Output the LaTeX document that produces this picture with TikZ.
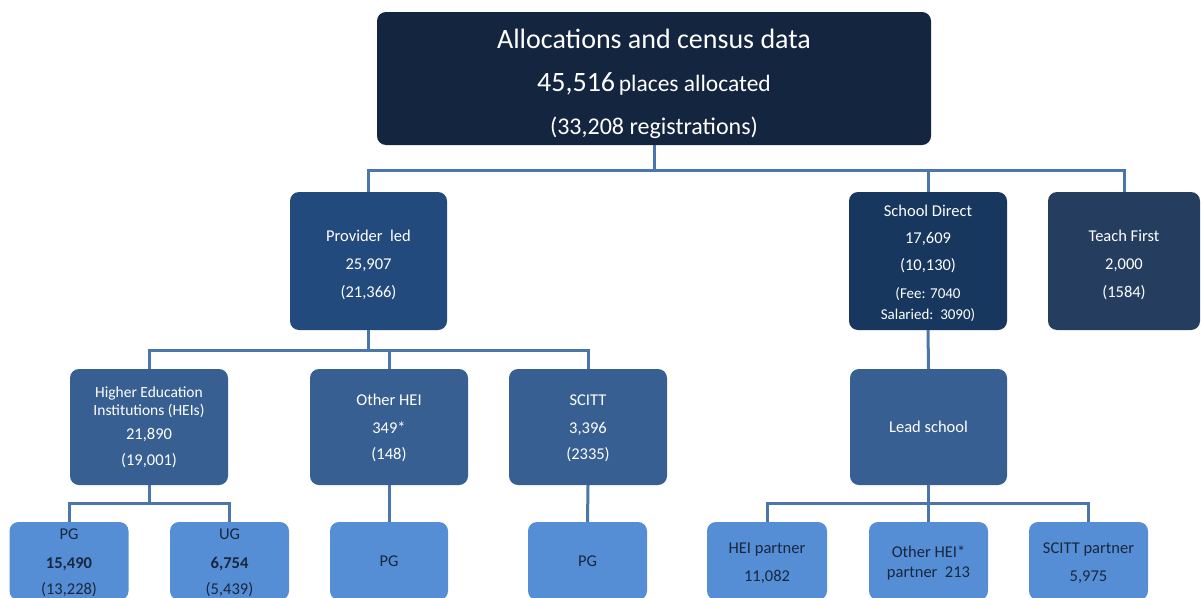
\documentclass[tikz,border=0pt]{standalone}
\usepackage{fontspec}
\setmainfont{Carlito}
\definecolor{topnavy}{HTML}{13253F}
\definecolor{provblue}{HTML}{224A7C}
\definecolor{sdblue}{HTML}{17375E}
\definecolor{tfblue}{HTML}{253E60}
\definecolor{midblue}{HTML}{375F91}
\definecolor{lightblue}{HTML}{558ED5}
\definecolor{linkblue}{HTML}{4A76AB}
\definecolor{darktext}{HTML}{18273D}
\begin{document}
\begin{tikzpicture}[x=1pt,y=-1pt,
  box/.style={rectangle, rounded corners=9pt, inner sep=0pt},
  topbox/.style={box, fill=topnavy, minimum width=554pt, minimum height=133pt},
  tierbox/.style={box, minimum width=157pt, minimum height=138pt},
  midbox/.style={box, fill=midblue, minimum width=158pt, minimum height=116pt},
  leafbox/.style={box, fill=lightblue, minimum width=119pt, minimum height=78pt},
  txt/.style={inner sep=0pt, align=center, text=white, font=\fontsize{16.5}{28}\selectfont},
  darktxt/.style={txt, text=darktext},
  link/.style={draw=linkblue, line width=3pt}]
\useasboundingbox (0,0) rectangle (1201,597);
\clip (0,0) rectangle (1201,597);

% ---- boxes ----
\node[topbox] (top) at (654,78.5) {};

\node[tierbox, fill=provblue] (prov) at (368.5,261) {};
\node[tierbox, fill=sdblue, minimum width=158pt] (sd) at (928,261) {};
\node[tierbox, fill=tfblue, minimum width=152pt] (tf) at (1124,261) {};

\node[midbox] (hei) at (149,427) {};
\node[midbox] (ohei) at (389,427) {};
\node[midbox] (scitt) at (588,427) {};
\node[midbox, minimum width=157pt] (lead) at (928.5,427) {};

\node[leafbox] (pgh) at (69,561) {};
\node[leafbox] (ug) at (229.5,561) {};
\node[leafbox, minimum width=118pt] (pgo) at (389,561) {};
\node[leafbox] (pgs) at (587.5,561) {};
\node[leafbox, minimum width=120pt] (hp) at (767,561) {};
\node[leafbox] (ohp) at (928.5,561) {};
\node[leafbox] (sp) at (1088.5,561) {};

% ---- box texts ----
\node[txt] (top-t) at ([yshift=-5pt]top.center)
  {{\fontsize{28}{34}\selectfont Allocations and census data}\\[15pt]
   {\fontsize{28}{34}\selectfont 45,516} {\fontsize{23.5}{34}\selectfont places allocated}\\[15pt]
   {\fontsize{24}{34}\selectfont (33,208 registrations)}};

\node[txt] (prov-t) at ([yshift=-4pt]prov.center) {Provider\ \ led\\25,907\\(21,366)};
\node[txt] (sd-t) at ([yshift=-2.5pt]sd.center)
  {School Direct\\[-1pt]17,609\\[-1pt](10,130)\\[0pt]{\fontsize{15}{21}\selectfont (Fee: 7040}\\[-7pt]{\fontsize{15}{21}\selectfont Salaried:\ \ 3090)}};
\node[txt] (tf-t) at ([yshift=-4pt]tf.center) {Teach First\\2,000\\(1584)};

\node[txt] (hei-t) at ([yshift=-0.5pt]hei.center)
  {{\fontsize{15.5}{17}\selectfont Higher Education}\\[-10pt]{\fontsize{15.5}{17}\selectfont Institutions (HEIs)}\\[-4pt]21,890\\[-2pt](19,001)};
\node[txt] (ohei-t) at ([yshift=-1pt]ohei.center) {Other HEI\\349*\\[-2pt](148)};
\node[txt] (scitt-t) at ([yshift=-1pt]scitt.center) {SCITT\\3,396\\[-2pt](2335)};
\node[txt] (lead-t) at (lead.center) {Lead school};

\node[darktxt] (pgh-t) at ([yshift=-2pt]pgh.center) {PG\\[1pt]\textbf{15,490}\\[-2pt](13,228)};
\node[darktxt] (ug-t) at ([yshift=-2pt]ug.center) {UG\\[1pt]\textbf{6,754}\\[-2pt](5,439)};
\node[darktxt] (pgo-t) at (pgo.center) {PG};
\node[darktxt] (pgs-t) at (pgs.center) {PG};
\node[darktxt] (hp-t) at ([yshift=-2pt]hp.center) {HEI partner\\11,082};
\node[darktxt] (ohp-t) at ([yshift=-1.5pt]ohp.center) {Other HEI*\\[-8pt]partner\ \ 213};
\node[darktxt] (sp-t) at ([yshift=-2pt]sp.center) {SCITT partner\\5,975};

% ---- connectors: top to routes ----
\draw[link] (top.south) -- ++(0,25) coordinate (j1);
\draw[link] (prov.north) |- (j1) -| (tf.north);
\draw[link] (sd.north) -- (sd.north |- j1);

% provider led to provider types
\draw[link] (prov.south) -- ++(0,20) coordinate (j2);
\draw[link] (hei.north) |- (j2) -| (scitt.north);
\draw[link] (ohei.north) -- (ohei.north |- j2);

% school direct to lead school
\draw[link] (sd.south) -- (lead.north);

% HEIs to PG / UG
\draw[link] (hei.south) -- ++(0,18) coordinate (j3);
\draw[link] (pgh.north) |- (j3) -| (ug.north);

% other HEI and SCITT to PG
\draw[link] (ohei.south) -- (pgo.north);
\draw[link] (scitt.south) -- (pgs.north);

% lead school to partners
\draw[link] (lead.south) -- ++(0,18) coordinate (j4);
\draw[link] (hp.north) |- (j4) -| (sp.north);
\draw[link] (ohp.north) -- (ohp.north |- j4);
\end{tikzpicture}
\end{document}
